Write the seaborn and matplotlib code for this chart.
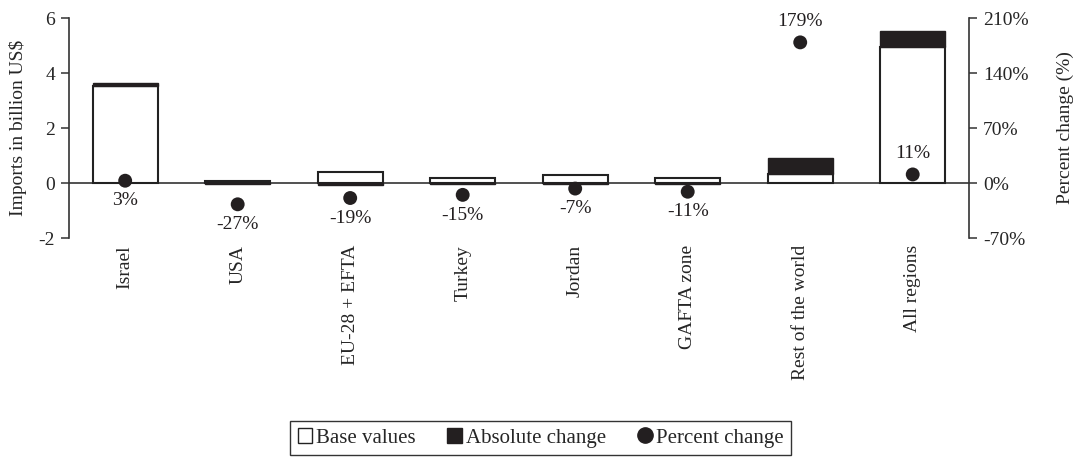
import matplotlib
matplotlib.use("Agg")
import matplotlib.pyplot as plt
from matplotlib.patches import Patch
from matplotlib.lines import Line2D
import numpy as np
import seaborn as sns

regions = ["Israel", "USA", "EU-28 + EFTA", "Turkey", "Jordan", "GAFTA zone",
           "Rest of the world", "All regions"]
base_values = [3.53, 0.06, 0.41, 0.20, 0.28, 0.20, 0.32, 4.96]
abs_change = [0.11, -0.016, -0.08, -0.03, -0.02, -0.022, 0.58, 0.55]
pct_change = [3, -27, -19, -15, -7, -11, 179, 11]
pct_labels = ["3%", "-27%", "-19%", "-15%", "-7%", "-11%", "179%", "11%"]

sns.set_theme(style="white")
plt.rcParams["font.family"] = ["Liberation Serif", "DejaVu Serif"]
plt.rcParams["font.size"] = 14
plt.rcParams["axes.unicode_minus"] = False

fig = plt.figure(figsize=(10.77, 4.57), dpi=100)
ax = fig.add_axes([0.064, 0.479, 0.8357, 0.4816])

x = np.arange(len(regions))
# base values as white bars
sns.barplot(x=x, y=base_values, ax=ax, color="white", edgecolor="#222222",
            linewidth=1.5, width=0.58, saturation=1)
# absolute change stacked on top (or drawn below zero if negative)
bottoms = [b if c > 0 else 0 for b, c in zip(base_values, abs_change)]
ax.bar(x, abs_change, bottom=bottoms, width=0.58, color="#231f20",
       edgecolor="#231f20", linewidth=1.0)

ax.axhline(0, color="#222222", lw=1.1, zorder=0.5)
ax.set_xlim(-0.5, len(regions) - 0.5)
ax.set_ylim(-2, 6)
ax.set_yticks([-2, 0, 2, 4, 6])
ax.set_ylabel("Imports in billion US$", fontsize=14, labelpad=8)
ax.set_xticks(x)
ax.set_xticklabels(regions, rotation=90, fontsize=14)
ax.tick_params(axis="x", length=0, pad=5)
ax.tick_params(axis="y", direction="out", length=6, width=1.1, color="#333333",
               labelsize=14, left=True, pad=4)
for s in ["top", "bottom"]:
    ax.spines[s].set_visible(False)
ax.spines["left"].set_color("#333333")
ax.spines["left"].set_linewidth(1.2)
ax.spines["right"].set_visible(False)

ax2 = ax.twinx()
sns.scatterplot(x=x, y=pct_change, ax=ax2, color="#231f20", s=100,
                edgecolor="none", zorder=5)
ax2.set_ylim(-70, 210)
ax2.set_yticks([-70, 0, 70, 140, 210])
ax2.set_yticklabels([f"{t}%" for t in [-70, 0, 70, 140, 210]])
ax2.set_ylabel("Percent change (%)", fontsize=14, labelpad=20)
ax2.tick_params(axis="y", direction="out", length=6, width=1.1, color="#333333",
                labelsize=14, right=True, pad=4)
for s in ["top", "bottom", "left"]:
    ax2.spines[s].set_visible(False)
ax2.spines["right"].set_color("#333333")
ax2.spines["right"].set_linewidth(1.2)

for xi, p, lab in zip(x, pct_change, pct_labels):
    if p > 10:
        ax2.annotate(lab, (xi, p), xytext=(0, 15), textcoords="offset points",
                     ha="center", va="center", fontsize=14, color="#231f20")
    else:
        ax2.annotate(lab, (xi, p), xytext=(0, -14.5), textcoords="offset points",
                     ha="center", va="center", fontsize=14, color="#231f20")

handles = [
    Patch(facecolor="white", edgecolor="#222222", linewidth=1.0, label="Base values"),
    Patch(facecolor="#231f20", edgecolor="#231f20", label="Absolute change"),
    Line2D([], [], marker="o", linestyle="none", color="#231f20", markersize=11,
           label="Percent change"),
]
leg = fig.legend(handles=handles, loc="lower center", bbox_to_anchor=(0.502, -0.018),
                 ncol=3, frameon=True, fancybox=False, fontsize=15,
                 handlelength=0.7, handleheight=0.7, handletextpad=0.2,
                 columnspacing=1.5, borderpad=0.35, edgecolor="black")
leg.get_frame().set_linewidth(1.0)

fig.savefig("out.png", dpi=100)
